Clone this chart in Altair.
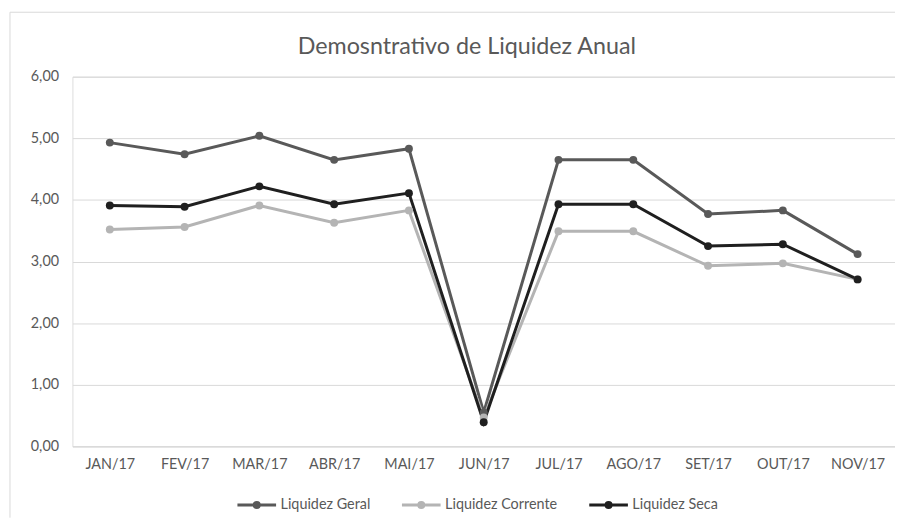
import altair as alt
import pandas as pd

months = ["JAN/17", "FEV/17", "MAR/17", "ABR/17", "MAI/17", "JUN/17",
          "JUL/17", "AGO/17", "SET/17", "OUT/17", "NOV/17"]
series_names = ["Liquidez Geral", "Liquidez Corrente", "Liquidez Seca"]
liquidez_geral = [4.93, 4.74, 5.04, 4.65, 4.83, 0.55, 4.65, 4.65, 3.77, 3.83, 3.12]
liquidez_corrente = [3.52, 3.56, 3.91, 3.63, 3.83, 0.47, 3.49, 3.49, 2.93, 2.97, 2.71]
liquidez_seca = [3.91, 3.89, 4.22, 3.93, 4.11, 0.39, 3.93, 3.93, 3.25, 3.28, 2.71]
series_colors = ["#595959", "#b4b4b4", "#1f1f1f"]
y_ticks = [0, 1, 2, 3, 4, 5, 6]
title_text = "Demosntrativo de Liquidez Anual"

rows = []
for name, vals in zip(series_names, [liquidez_geral, liquidez_corrente, liquidez_seca]):
    for m, v in zip(months, vals):
        rows.append({"mes": m, "serie": name, "valor": v})
df = pd.DataFrame(rows)

FONT = "Lato"
TXT = "#595959"
LBL = 14.5

color_scale = alt.Scale(domain=series_names, range=series_colors)

stroke = alt.Stroke(
    "serie:N",
    scale=color_scale,
    legend=alt.Legend(
        title=None,
        orient="none",
        direction="horizontal",
        legendX=165,
        legendY=411,
        symbolType="M-1,0L1,0M-0.13,0A0.13,0.13 0 1,1 0.13,0A0.13,0.13 0 1,1 -0.13,0",
        symbolSize=1521,
        symbolStrokeWidth=3,
        labelFont=FONT,
        labelFontSize=LBL,
        labelColor=TXT,
        labelOffset=3,
        columnPadding=25,
    ),
)
fill = alt.Fill("serie:N", scale=color_scale, legend=None)

x = alt.X(
    "mes:N",
    sort=months,
    scale=alt.Scale(paddingInner=0, paddingOuter=0),
    axis=alt.Axis(
        title=None, labelAngle=0, ticks=False, domain=True, domainColor="#d9d9d9",
        labelFont=FONT, labelFontSize=LBL, labelColor=TXT, labelPadding=11, grid=False,
    ),
)
y = alt.Y(
    "valor:Q",
    scale=alt.Scale(domain=[0, 6], nice=False),
    axis=alt.Axis(
        title=None, values=y_ticks, ticks=False, domain=False,
        labelExpr="replace(format(datum.value, '.2f'), '.', ',')",
        labelFont=FONT, labelFontSize=LBL, labelColor=TXT, labelPadding=14,
        gridColor="#d9d9d9", gridWidth=1,
    ),
)

base = alt.Chart(df)
lines = base.mark_line(strokeWidth=3).encode(x=x, y=y, stroke=stroke)
points = base.mark_circle(size=64, opacity=1).encode(x=x, y=y, fill=fill)

one = pd.DataFrame({"t": [title_text]})
border_left = alt.Chart(one).mark_rule(color="#d9d9d9", strokeWidth=1).encode(
    x=alt.value(-63), y=alt.value(-65), y2=alt.value(445)
)
border_top = alt.Chart(one).mark_rule(color="#d9d9d9", strokeWidth=1).encode(
    x=alt.value(-63), x2=alt.value(840), y=alt.value(-65)
)
title = alt.Chart(one).mark_text(
    font=FONT, fontSize=23.5, color=TXT, align="center", baseline="alphabetic"
).encode(text="t:N", x=alt.value(398), y=alt.value(-23))

chart = alt.layer(border_left, border_top, title, lines, points).properties(
    width=830,
    height=373,
    autosize=alt.AutoSizeParams(type="none"),
    padding={"left": 65, "top": 67, "right": 0, "bottom": 70},
).configure_view(stroke=None).configure(background="white")

chart.save("out.html", embed_options={"renderer": "svg", "actions": False})
